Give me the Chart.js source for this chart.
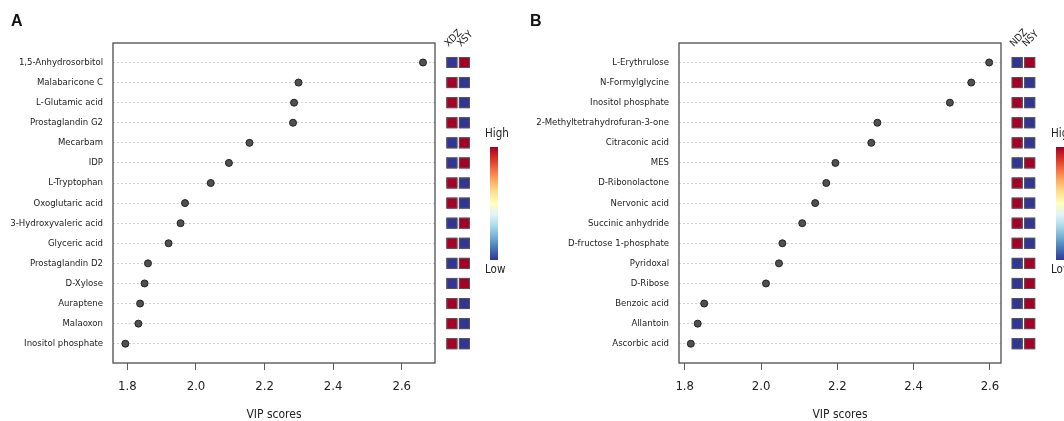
<!DOCTYPE html>
<html lang="en">
<head>
<meta charset="UTF-8">
<title>VIP scores</title>
<script src="https://cdn.jsdelivr.net/npm/chart.js@4"></script>
<style>
  body{margin:0;background:#fff;width:1064px;height:421px;overflow:hidden;position:relative}
  .panel{position:absolute;top:0;width:532px;height:421px}
  #wrapA{left:0} #wrapB{left:532px}
  .tag{position:absolute;top:13px;font:bold 16px/16px 'Liberation Sans',Arial,sans-serif;color:#111}
</style>
</head>
<body>
<div class="panel" id="wrapA"><canvas id="chartA" width="532" height="421"></canvas></div>
<div class="panel" id="wrapB"><canvas id="chartB" width="532" height="421"></canvas></div>
<div class="tag" style="left:11px">A</div>
<div class="tag" style="left:530px">B</div>
<script>
// ---- data ----
const ticksX = [1.8, 2.0, 2.2, 2.4, 2.6];

const namesA = ['1,5-Anhydrosorbitol', 'Malabaricone C', 'L-Glutamic acid', 'Prostaglandin G2', 'Mecarbam', 'IDP',
  'L-Tryptophan', 'Oxoglutaric acid', '3-Hydroxyvaleric acid', 'Glyceric acid', 'Prostaglandin D2', 'D-Xylose',
  'Auraptene', 'Malaoxon', 'Inositol phosphate'];
const vipA = [2.662, 2.299, 2.286, 2.283, 2.156, 2.096, 2.043, 1.968, 1.955, 1.920, 1.860, 1.850, 1.837, 1.832, 1.794];
const groupsA = ['XDZ', 'XSY'];
const xdzA = [-1, 1, 1, 1, -1, -1, 1, 1, -1, 1, -1, -1, 1, 1, 1];
const xsyA = [1, -1, -1, -1, 1, 1, -1, -1, 1, -1, 1, 1, -1, -1, -1];

const namesB = ['L-Erythrulose', 'N-Formylglycine', 'Inositol phosphate', '2-Methyltetrahydrofuran-3-one', 'Citraconic acid',
  'MES', 'D-Ribonolactone', 'Nervonic acid', 'Succinic anhydride', 'D-fructose 1-phosphate', 'Pyridoxal', 'D-Ribose',
  'Benzoic acid', 'Allantoin', 'Ascorbic acid'];
const vipB = [2.598, 2.551, 2.495, 2.305, 2.289, 2.195, 2.171, 2.142, 2.108, 2.056, 2.047, 2.013, 1.851, 1.834, 1.816];
const groupsB = ['NDZ', 'NSY'];
const ndzB = [-1, 1, 1, 1, 1, -1, 1, 1, 1, 1, -1, -1, -1, -1, -1];
const nsyB = [1, -1, -1, -1, -1, 1, -1, -1, -1, -1, 1, 1, 1, 1, 1];

// RdYlBu, high -> low
const rdylbu = ['#a50026', '#d73027', '#f46d43', '#fdae61', '#fee090', '#ffffbf', '#e0f3f8', '#abd9e9', '#74add1', '#4575b4', '#313695'];

// ---- fonts: prefer a narrow face, size it to the reference widths ----
const mctx = document.createElement('canvas').getContext('2d');
function hasFont(name) {
  const s = 'Mwil1,5-Anhydro 2.6';
  mctx.font = '20px monospace';
  const a = mctx.measureText(s).width;
  mctx.font = `20px '${name}', monospace`;
  return mctx.measureText(s).width !== a;
}
const family = ['Liberation Sans Narrow', 'DejaVu Sans Condensed', 'Liberation Sans'].find(hasFont) || 'sans-serif';
function fitSize(text, base, target, lo, hi) {
  mctx.font = `${base}px '${family}'`;
  const s = base * target / mctx.measureText(text).width;
  return Math.max(lo, Math.min(hi, s));
}
const labelSize = fitSize('2-Methyltetrahydrofuran-3-one', 11, 133, 9, 12);
const tickSize = fitSize('2.6', 14, 16, 13, 15);
const titleSize = fitSize('VIP scores', 14, 55, 12, 15);

function heatColor(v) {
  // v in [-1, 1] -> position along rdylbu (0 = high)
  const t = (1 - v) / 2 * (rdylbu.length - 1);
  return rdylbu[Math.round(t)];
}

const sidePlugin = {
  id: 'side',
  beforeDatasetsDraw(chart) {
    const {ctx, chartArea: a} = chart;
    ctx.save();
    ctx.strokeStyle = '#5a5a5a';
    ctx.lineWidth = 1.4;
    ctx.strokeRect(a.left, a.top, a.right - a.left, a.bottom - a.top);
    ctx.restore();
  },
  afterDraw(chart, args, opts) {
    const {ctx, chartArea: a} = chart;
    const ys = chart.scales.y;
    ctx.save();
    // heatmap cells
    opts.columns.forEach((col, c) => {
      const x = a.right + opts.cellOffset + c * 12.5;
      col.forEach((v, i) => {
        const y = ys.getPixelForValue(i);
        ctx.fillStyle = heatColor(v);
        ctx.fillRect(x, y - 5.5, 11, 11);
        ctx.strokeStyle = '#555';
        ctx.lineWidth = 1;
        ctx.strokeRect(x + 0.5, y - 5, 10, 10);
      });
      // group label, rotated
      ctx.save();
      ctx.translate(x + 2, 47);
      ctx.rotate(-Math.PI / 4);
      ctx.fillStyle = '#222';
      ctx.font = `10px '${family}'`;
      ctx.textAlign = 'left';
      ctx.textBaseline = 'alphabetic';
      ctx.fillText(opts.groups[c], 0, 0);
      ctx.restore();
    });
    // colour bar
    const bx = a.right + 55, top = 147, bottom = 260;
    const g = ctx.createLinearGradient(0, top, 0, bottom);
    rdylbu.forEach((c, i) => g.addColorStop(i / (rdylbu.length - 1), c));
    ctx.fillStyle = g;
    ctx.fillRect(bx, top, 8, bottom - top);
    ctx.fillStyle = '#222';
    ctx.font = `11.5px '${family}'`;
    ctx.textAlign = 'left';
    ctx.textBaseline = 'middle';
    ctx.fillText('High', bx - 5, 134);
    ctx.fillText('Low', bx - 5, 270);
    ctx.restore();
  }
};

function makePanel(id, names, vip, groups, columns, xMin, xMax, yWidth, padRight, cellOffset) {
  return new Chart(document.getElementById(id), {
    type: 'scatter',
    data: {
      datasets: [{
        data: vip.map((v, i) => ({x: v, y: i})),
        pointRadius: 3.5,
        pointBackgroundColor: '#505050',
        pointBorderColor: '#222',
        pointBorderWidth: 1
      }]
    },
    options: {
      responsive: false,
      animation: false,
      devicePixelRatio: 1,
      layout: {padding: {top: 43, right: padRight, bottom: 0, left: 0}},
      plugins: {
        legend: {display: false},
        tooltip: {enabled: false},
        side: {groups, columns, cellOffset}
      },
      scales: {
        x: {
          type: 'linear', min: xMin, max: xMax,
          afterBuildTicks: s => { s.ticks = ticksX.map(v => ({value: v})); },
          afterFit: s => { s.height = 58; },
          ticks: {padding: 9, color: '#222', font: {family, size: tickSize}, callback: v => v.toFixed(1)},
          grid: {drawOnChartArea: false, tickLength: 7, color: '#5a5a5a'},
          border: {display: false},
          title: {display: true, text: 'VIP scores', color: '#222', padding: 0,
            font: {family, size: titleSize, lineHeight: 1}}
        },
        y: {
          type: 'linear', reverse: true, min: -0.97, max: names.length - 0.04,
          afterBuildTicks: s => { s.ticks = names.map((n, i) => ({value: i})); },
          afterFit: s => { s.width = yWidth; },
          ticks: {padding: 10, color: '#222', font: {family, size: labelSize}, callback: v => names[v]},
          grid: {drawTicks: false, color: '#cfcfcf', lineWidth: 1},
          border: {display: false, dash: [2, 2]}
        }
      }
    },
    plugins: [sidePlugin]
  });
}

makePanel('chartA', namesA, vipA, groupsA, [xdzA, xsyA], 1.758, 2.697, 113, 97, 11.4);
makePanel('chartB', namesB, vipB, groupsB, [ndzB, nsyB], 1.785, 2.629, 147, 63, 10.7);
</script>
</body>
</html>
